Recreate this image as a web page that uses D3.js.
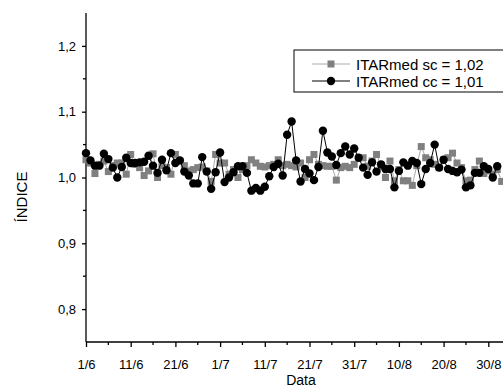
<!DOCTYPE html>
<html>
<head>
<meta charset="utf-8">
<script src="https://cdn.jsdelivr.net/npm/d3@7"></script>
<style>
  body { margin: 0; background: #fff; }
  text { font-family: "Liberation Sans", Arial, sans-serif; fill: #000; }
</style>
</head>
<body>
<div id="chart"></div>
<script>
// day index counted from 1/6
const tickDays = [0, 10, 20, 30, 40, 50, 60, 70, 80, 90];
const tickLabels = ['1/6', '11/6', '21/6', '1/7', '11/7', '21/7', '31/7', '10/8', '20/8', '30/8'];
const yTicks = [0.8, 0.9, 1.0, 1.1, 1.2];

const itarSc = [
  1.027, 1.022, 1.006, 1.020, 1.025, 1.009, 1.018, 1.022, 1.022, 1.005,
  1.035, 1.020, 1.015, 1.003, 1.010, 1.036, 1.000, 1.018, 1.015, 1.005,
  1.035, 1.025, 1.018, 1.010, 1.012, 1.015, 1.016, 1.010, 0.994, 1.035,
  1.022, 1.022, 1.005, 1.012, 1.000, 1.012, 1.018, 1.027, 1.022, 1.017,
  1.016, 1.018, 1.020, 1.027, 1.018, 1.020, 1.018, 1.016, 1.022, 1.000,
  1.027, 1.035, 1.020, 1.018, 1.017, 1.017, 0.996, 1.015, 1.017, 1.015,
  1.020, 1.030, 1.030, 1.017, 1.025, 1.035, 1.017, 1.000, 1.025, 0.995,
  1.012, 0.995, 0.995, 0.988, 1.018, 1.047, 1.030, 1.027, 1.020, 1.015,
  1.027, 1.030, 1.037, 1.022, 1.015, 0.995, 0.996, 1.012, 1.025, 1.006,
  1.010, 1.005, 1.012, 0.994
];

const itarCc = [
  1.037, 1.026, 1.018, 1.018, 1.036, 1.028, 1.015, 1.000, 1.016, 1.030,
  1.022, 1.022, 1.023, 1.024, 1.033, 1.018, 1.007, 1.027, 1.011, 1.037,
  1.022, 1.026, 1.009, 1.003, 0.991, 0.991, 1.031, 1.009, 0.983, 1.008,
  1.038, 0.993, 1.000, 1.008, 1.017, 1.017, 1.007, 0.980, 0.984, 0.980,
  0.986, 1.002, 1.016, 1.021, 1.003, 1.065, 1.085, 1.026, 0.994, 1.013,
  1.006, 0.996, 1.016, 1.071, 1.038, 1.032, 1.019, 1.037, 1.047, 1.035,
  1.044, 1.030, 1.015, 1.004, 1.023, 1.009, 1.020, 1.013, 1.013, 0.985,
  1.010, 1.023, 1.018, 1.025, 1.022, 0.990, 1.013, 1.022, 1.050, 1.015,
  1.027, 1.013, 1.010, 1.008, 1.012, 0.985, 0.988, 1.007, 1.007, 1.017,
  1.013, 1.000, 1.017
];

const legendLabels = ['ITARmed sc = 1,02', 'ITARmed cc = 1,01'];

const width = 503;
const height = 387;
const plot = { left: 86, top: 13, bottom: 342 };

const fmtComma = (v) => d3.format('.1f')(v).replace('.', ',');

const svg = d3
  .select('#chart')
  .append('svg')
  .attr('width', width)
  .attr('height', height);

const xScale = d3.scaleLinear().domain([0, 95]).range([plot.left, plot.left + 95 * 4.47]);
const yScale = d3.scaleLinear().domain([0.75, 1.25]).range([plot.bottom, plot.top]);

// x axis
const xAxis = d3
  .axisBottom(xScale)
  .tickValues(tickDays)
  .tickSize(5)
  .tickPadding(13)
  .tickFormat((d, i) => tickLabels[i]);

const gx = svg
  .append('g')
  .attr('transform', `translate(0, ${plot.bottom})`)
  .call(xAxis);
gx.select('.domain').attr('d', `M${plot.left},0H${width + 10}`).attr('stroke-width', 1.3);
gx.selectAll('.tick line').attr('stroke-width', 1.3);
gx.selectAll('.tick text').style('font-size', '13px');

svg
  .append('g')
  .attr('transform', `translate(0, ${plot.bottom})`)
  .selectAll('line')
  .data(tickDays.map((d) => d + 5))
  .enter()
  .append('line')
  .attr('x1', (d) => xScale(d))
  .attr('x2', (d) => xScale(d))
  .attr('y1', 0)
  .attr('y2', 3)
  .attr('stroke', '#000')
  .attr('stroke-width', 1.3);

// y axis
const yAxis = d3
  .axisLeft(yScale)
  .tickValues(yTicks)
  .tickSize(4)
  .tickPadding(6)
  .tickFormat(fmtComma);

const gy = svg
  .append('g')
  .attr('transform', `translate(${plot.left}, 0)`)
  .call(yAxis);
gy.select('.domain').attr('d', `M0,${plot.top}V${plot.bottom}`).attr('stroke-width', 1.3);
gy.selectAll('.tick line').attr('stroke-width', 1.3);
gy.selectAll('.tick text').style('font-size', '13px');

svg
  .append('g')
  .selectAll('line')
  .data([0.85, 0.95, 1.05, 1.15])
  .enter()
  .append('line')
  .attr('x1', plot.left - 3)
  .attr('x2', plot.left)
  .attr('y1', (d) => yScale(d))
  .attr('y2', (d) => yScale(d))
  .attr('stroke', '#000')
  .attr('stroke-width', 1.3);

// axis titles
svg
  .append('text')
  .attr('x', 301)
  .attr('y', 385)
  .attr('text-anchor', 'middle')
  .style('font-size', '14px')
  .text('Data');

svg
  .append('text')
  .attr('transform', 'translate(27, 197) rotate(-90)')
  .attr('text-anchor', 'middle')
  .style('font-size', '15px')
  .text('ÍNDICE');

// series
const line = d3
  .line()
  .x((d, i) => xScale(i))
  .y((d) => yScale(d));

svg
  .append('path')
  .datum(itarSc)
  .attr('fill', 'none')
  .attr('stroke', '#aaa')
  .attr('stroke-width', 1)
  .attr('d', line);

svg
  .selectAll('.sq')
  .data(itarSc)
  .enter()
  .append('rect')
  .attr('class', 'sq')
  .attr('x', (d, i) => xScale(i) - 3.5)
  .attr('y', (d) => yScale(d) - 3.5)
  .attr('width', 7)
  .attr('height', 7)
  .attr('fill', '#808080');

svg
  .append('path')
  .datum(itarCc)
  .attr('fill', 'none')
  .attr('stroke', '#000')
  .attr('stroke-width', 1)
  .attr('d', line);

svg
  .selectAll('.dot')
  .data(itarCc)
  .enter()
  .append('circle')
  .attr('class', 'dot')
  .attr('cx', (d, i) => xScale(i))
  .attr('cy', (d) => yScale(d))
  .attr('r', 4.2)
  .attr('fill', '#000');

// legend
const legend = svg.append('g');
legend
  .append('rect')
  .attr('x', 294)
  .attr('y', 50)
  .attr('width', 230)
  .attr('height', 42)
  .attr('fill', '#fff')
  .attr('stroke', '#000')
  .attr('stroke-width', 1);

const legRows = legend
  .selectAll('.leg')
  .data(legendLabels)
  .enter()
  .append('g')
  .attr('class', 'leg')
  .attr('transform', (d, i) => `translate(0, ${64 + i * 17})`);

legRows
  .append('line')
  .attr('x1', 312)
  .attr('x2', 350)
  .attr('stroke', (d, i) => (i === 0 ? '#aaa' : '#000'))
  .attr('stroke-width', 1);

legRows
  .filter((d, i) => i === 0)
  .append('rect')
  .attr('x', 327.5)
  .attr('y', -3.5)
  .attr('width', 7)
  .attr('height', 7)
  .attr('fill', '#808080');

legRows
  .filter((d, i) => i === 1)
  .append('circle')
  .attr('cx', 331)
  .attr('r', 4.2)
  .attr('fill', '#000');

legRows
  .append('text')
  .attr('x', 356)
  .attr('y', 5.5)
  .style('font-size', '15px')
  .text((d) => d);
</script>
</body>
</html>
